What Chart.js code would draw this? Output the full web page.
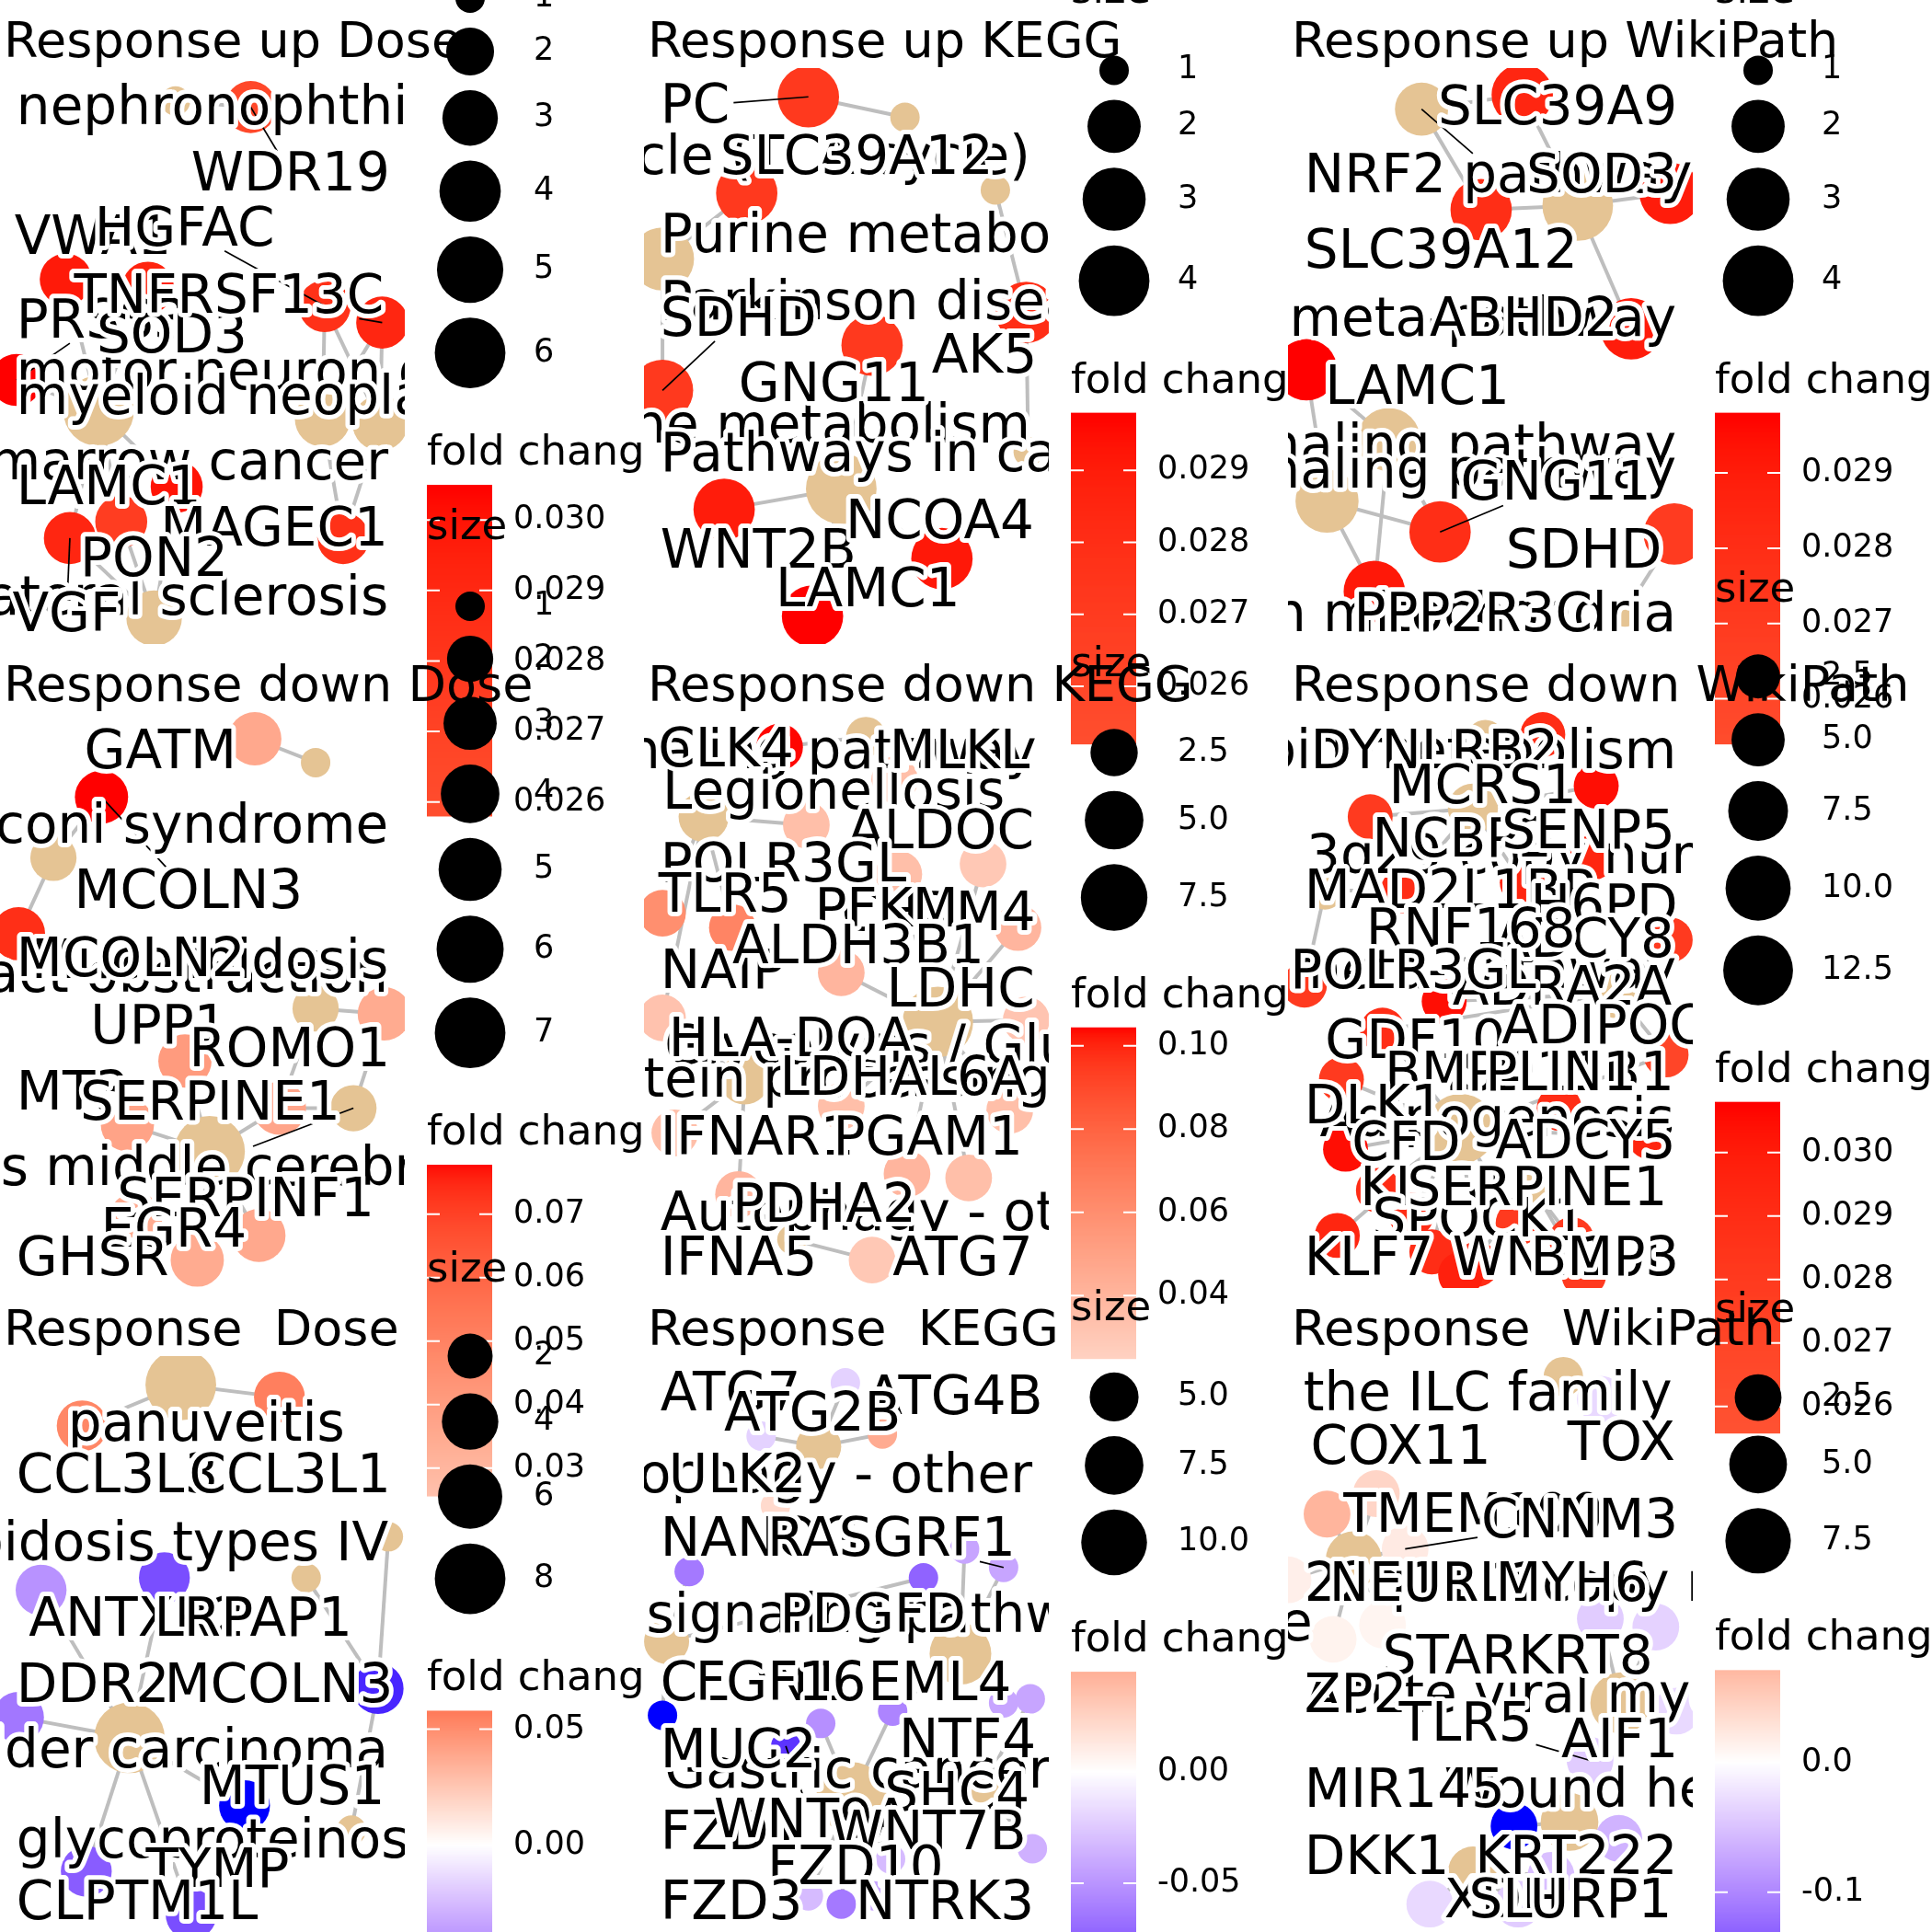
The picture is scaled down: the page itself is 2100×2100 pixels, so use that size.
<!DOCTYPE html>
<html><head><meta charset="utf-8">
<script src="https://cdn.jsdelivr.net/npm/chart.js"></script>
<style>
html,body{margin:0;padding:0;background:#fff;}
body{width:2100px;height:2100px;overflow:hidden;position:relative;}
canvas{position:absolute;}
</style></head><body>
<script>
// ---------------- DATA (layout coordinates, sizes, fold changes) ----------------
const titles = ["Response up Dose","Response up KEGG","Response up WikiPath",
  "Response down Dose","Response down KEGG","Response down WikiPath",
  "Response  Dose","Response  KEGG","Response  WikiPath"];

// Panel 1
const p1Names = ["nephronophthisis","motor neuron disease","myeloid neoplasm","bone marrow cancer","amyotrophic lateral sclerosis","WDR19","VWA1","HGFAC","PRSS3","SOD3","TNFRSF13C","LAMC1","MAGEC1","PON2","VGF"];
const p1X = [427,785,925,240,375,610,160,790,40,360,930,430,835,295,170];
const p1Y = [245,1020,1030,1000,1505,260,680,745,925,700,785,1185,1310,1270,1310];
const p1Size = [1,3,3,6,3,2.5,2.5,2.5,2.5,2.5,2.5,2.5,2.5,2.5,2.5];
const p1FC = [null,null,null,null,null,0.0265,0.0298,0.0285,0.0305,0.0293,0.0292,0.0300,0.0285,0.0275,0.0292];
const p1LabX = [40,40,40,945,945,465,35,230,40,235,180,40,390,195,30];
const p1LabY = [255,900,960,1120,1450,415,570,550,775,810,715,1180,1280,1355,1490];
const p1Right = ["bone marrow cancer","amyotrophic lateral sclerosis"];
const p1Seg = ["WDR19","HGFAC","TNFRSF13C","PRSS3","VGF"];
const p1Edges = [[5,0],[7,1],[7,2],[10,2],[10,1],[12,2],[12,1],[11,3],[14,3],[13,3],[14,4],[13,4],[8,3],[6,3],[9,3],[11,4]];
const p1SizeLim = [1,6], p1SizeBreaks = [1,2,3,4,5,6];
const p1FcLim = [0.0258,0.0305], p1FcBreaks = [0.026,0.027,0.028,0.029,0.030];

// Panel 2
const p2Names = ["Citrate cycle (TCA cycle)","Parkinson disease","Purine metabolism","Pyrimidine metabolism","Pathways in cancer","PC","SLC39A12","SDHD","GNG11","AK5","WNT2B","NCOA4","LAMC1"];
const p2X = [635,855,45,935,480,400,250,45,555,930,195,725,410];
const p2Y = [285,462,630,1100,1190,235,470,950,840,760,1240,1360,1500];
const p2Size = [1,1,3,1,4,2.8,2.8,2.8,2.8,2.8,2.8,2.8,2.8];
const p2FC = [null,null,null,null,null,0.0272,0.0272,0.0272,0.0272,0.028,0.029,0.0292,0.0298];
const p2LabX = [940,40,40,940,40,40,185,40,230,700,40,490,320];
const p2LabY = [375,730,565,1030,1100,250,375,770,930,860,1335,1262,1430];
const p2Right = ["Citrate cycle (TCA cycle)","Pyrimidine metabolism"];
const p2Seg = ["PC","SDHD"];
const p2Edges = [[5,0],[6,2],[7,2],[9,1],[9,3],[8,4],[10,4],[11,4],[12,4]];
const p2SizeLim = [1,4], p2SizeBreaks = [1,2,3,4];
const p2FcLim = [0.0252,0.0298], p2FcBreaks = [0.026,0.027,0.028,0.029];

// Panel 3
const p3Names = ["NRF2 pathway","Nuclear receptors meta-pathway","PI3K-Akt signaling pathway","Wnt signaling pathway","Electron transport chain: OXPHOS system in mitochondria","SLC39A9","SLC39A12","SOD3","ABHD2","LAMC1","GNG11","SDHD","PPP2R3C"];
const p3X = [325,705,245,95,820,570,470,930,835,45,370,940,210];
const p3Y = [265,500,1070,1220,1490,230,510,470,800,900,1295,1300,1440];
const p3Size = [2,4,3,3,1,2.8,2.8,2.8,2.8,2.8,2.8,2.8,2.8];
const p3FC = [null,null,null,null,null,0.0285,0.028,0.029,0.029,0.0298,0.028,0.027,0.0292];
const p3LabX = [40,945,945,945,945,365,40,580,345,90,420,530,160];
const p3LabY = [420,770,1080,1140,1490,255,605,420,770,935,1170,1335,1490];
const p3Right = ["Nuclear receptors meta-pathway","PI3K-Akt signaling pathway","Wnt signaling pathway","Electron transport chain: OXPHOS system in mitochondria"];
const p3Seg = ["NRF2 pathway","GNG11"];
const p3Edges = [[5,0],[6,0],[6,1],[5,1],[7,1],[8,1],[9,2],[9,3],[10,3],[10,2],[12,2],[12,3],[11,4]];
const p3SizeLim = [1,4], p3SizeBreaks = [1,2,3,4];
const p3FcLim = [0.0254,0.0298], p3FcBreaks = [0.026,0.027,0.028,0.029];

// Panel 4
const p4Names = ["Fanconi syndrome","urinary tract obstruction","Mucolipidosis","Infarctions middle cerebral artery","Kidney Diseases","GATM","MCOLN3","MCOLN2","UPP1","ROMO1","MT3","SERPINE1","SERPINF1","EGR4","GHSR"];
const p4X = [768,768,130,860,510,620,247,45,450,680,310,935,630,330,480];
const p4Y = [288,887,520,1130,1235,230,372,705,1015,1130,1170,900,1440,1400,1500];
const p4Size = [1,2,2,2,7,3,3,3,3,3,3,3,3,3,3];
const p4FC = [null,null,null,null,null,0.035,0.0778,0.073,0.04,0.036,0.037,0.034,0.035,0.034,0.034];
const p4LabX = [945,945,945,-615,null,205,180,40,220,460,40,195,285,245,40];
const p4LabY = [435,800,765,1270,null,255,595,760,925,980,1085,1110,1345,1420,1490];
const p4Right = ["Fanconi syndrome","urinary tract obstruction","Mucolipidosis"];
const p4Seg = ["MCOLN3","Infarctions middle cerebral artery"];
const p4Edges = [[5,0],[6,2],[7,2],[11,1],[9,1],[11,3],[9,3],[9,4],[8,4],[10,4],[12,4],[13,4],[14,4]];
const p4SizeLim = [1,7], p4SizeBreaks = [1,2,3,4,5,6,7];
const p4FcLim = [0.0256,0.0778], p4FcBreaks = [0.03,0.04,0.05,0.06,0.07];

// Panel 5
const p5Names = ["NOD-like receptor signaling pathway","Legionellosis","Glycolysis / Gluconeogenesis","Protein processing in endoplasmic reticulum","Autophagy - other","CLK4","MLKL","ALDOC","POLR3GL","TLR5","CHRM4","PFKM","NAIP","ALDH3B1","LDHC","HLA-DOA","LDHAL6A","IFNAR1","PGAM1","PDHA2","ATG7","IFNA5","ENO2"];
const p5X = [540,145,715,245,360,330,610,825,395,45,910,620,215,480,930,45,480,75,890,640,555,230,790];
const p5Y = [225,420,920,1060,1450,250,330,535,440,655,690,560,690,800,915,910,1125,1190,1135,1290,1500,1340,1300];
const p5Size = [1.5,3,9,3,1,2.4,2.4,2.4,2.4,2.4,2.4,2.4,2.4,2.4,2.4,2.4,2.4,2.4,2.4,2.4,2.4,2.4,2.4];
const p5FC = [null,null,null,null,null,0.104,0.035,0.03,0.035,0.06,0.04,0.035,0.065,0.04,0.032,0.033,0.035,0.035,0.035,0.04,0.03,0.04,0.035];
const p5LabX = [955,45,50,-207,40,34,597,495,40,35,480,415,40,215,590,60,330,40,460,215,605,40,null];
const p5LabY = [255,354,975,1055,1380,251,255,450,530,605,650,640,790,730,835,955,1050,1195,1195,1360,1490,1490,null];
const p5Right = ["NOD-like receptor signaling pathway"];
const p5Seg = [];
const p5Edges = [[6,0],[5,0],[8,1],[9,1],[12,1],[15,1],[7,2],[11,2],[10,2],[13,2],[14,2],[16,2],[18,2],[19,2],[22,2],[17,3],[15,3],[21,4],[20,4],[21,3]];
const p5SizeLim = [1,9], p5SizeBreaks = [2.5,5,7.5];
const p5FcLim = [0.0249,0.1044], p5FcBreaks = [0.04,0.06,0.08,0.10];

// Panel 6
const p6Names = ["Sphingolipid metabolism","3q29 copy number variation syndrome","Adipogenesis","Nuclear receptors meta-pathway","Leptin signaling pathway","Wnt signaling pathway","DYNLRB2","MCRS1","NCBP2","SENP5","MAD2L1BP","H6PD","ADCY8","RNF168","ADRA2A","POLR3GL","GDF10","ADIPOQ","HSD11B1","BMP4","PLIN1","DLK1","CFD","ADCY5","KISS1","SPOCK1","SERPINE1","KLF7","WNT10B","BMP3"];
const p6X = [480,450,420,800,90,600,620,750,200,740,280,570,380,930,230,40,130,920,140,660,880,220,350,690,460,300,560,120,420,720];
const p6Y = [230,400,1180,850,600,1330,220,345,420,520,600,580,870,720,940,830,1060,1000,1230,1130,1200,1330,1480,1450,1510,1390,1410,1440,1535,1535];
const p6Size = [1.5,4,12.5,4,1.5,2,2.7,2.7,2.7,2.7,2.7,2.7,2.7,2.7,2.7,2.7,2.7,2.7,2.7,2.7,2.7,2.7,2.7,2.7,2.7,2.7,2.7,2.7,2.7,2.7];
const p6FC = [null,null,null,null,null,null,0.029,0.0305,0.028,0.0295,0.029,0.0295,0.0305,0.028,0.029,0.028,0.028,0.027,0.0305,0.029,0.0295,0.029,0.029,0.028,0.029,0.029,0.028,0.0295,0.0298,0.028];
const p6LabX = [945,45,940,945,null,null,55,245,205,520,40,590,940,190,400,5,90,520,940,235,480,40,155,505,175,205,290,40,400,590];
const p6LabY = [255,510,1150,790,null,null,255,340,470,450,595,630,715,690,830,790,960,925,1040,1040,1040,1120,1210,1205,1320,1395,1320,1490,1490,1490];
const p6Right = ["Sphingolipid metabolism","Adipogenesis","Nuclear receptors meta-pathway","ADCY8","HSD11B1"];
const p6Seg = [];
const p6Edges = [[6,0],[7,1],[8,1],[9,1],[10,1],[11,1],[12,3],[13,3],[14,3],[17,3],[15,4],[10,4],[16,2],[18,2],[19,2],[20,2],[21,2],[22,2],[24,2],[25,2],[27,2],[14,2],[17,2],[23,5],[26,5],[28,5],[29,5],[26,2]];
const p6SizeLim = [1,13], p6SizeBreaks = [2.5,5,7.5,10,12.5];
const p6FcLim = [0.02558,0.0308], p6FcBreaks = [0.026,0.027,0.028,0.029,0.030];

// Panel 7
const p7Names = ["panuveitis","Mucolipidosis types IV","Sphingolipidosis","Urinary bladder carcinoma","glycoproteinosis","CCL3L3","CCL3L1","ANTXR2","LRPAP1","DDR2","MCOLN3","MTUS1","TYMP","CLPTM1L"];
const p7X = [440,945,745,315,855,200,680,100,400,45,920,595,210,465];
const p7Y = [235,605,705,1095,1320,335,265,735,705,1045,975,1260,1420,1525];
const p7Size = [8,1,1,8,1,2.9,2.9,2.9,2.9,2.9,2.9,2.9,2.9,2.9];
const p7FC = [null,null,null,null,null,0.052,0.055,-0.04,-0.065,-0.05,-0.078,-0.0849,-0.06,-0.065];
const p7LabX = [165,945,null,945,40,40,460,70,375,40,400,485,355,40];
const p7LabY = [325,615,null,1120,1340,450,450,800,800,960,960,1210,1410,1490];
const p7Right = ["Mucolipidosis types IV","Urinary bladder carcinoma"];
const p7Seg = [];
const p7Edges = [[5,0],[6,0],[10,1],[10,2],[7,3],[8,3],[9,3],[11,3],[12,3],[13,3],[10,4]];
const p7SizeLim = [1,8], p7SizeBreaks = [2,4,6,8];
const p7FcLim = [-0.0849,0.058], p7FcBreaks = [-0.05,0,0.05];

// Panel 8
const p8Names = ["Autophagy - other","Ras signaling pathway","Neurotrophin signaling pathway","Gastric cancer","Hippo signaling pathway","ATG7","ATG4B","ATG2B","ULK2","NANOG","RASGRF1","PDGFD","CLDN1","FGF16","EML4","MUC2","NTF4","SHC4","FZD1","WNT9A","WNT7B","FZD10","FZD3","NTRK3"];
const p8X = [425,55,770,505,825,490,580,285,320,110,875,680,45,780,875,430,605,940,400,345,945,600,480,560];
const p8Y = [385,860,890,1240,1215,230,355,360,530,690,680,705,1040,635,1010,1060,1030,1000,1480,1115,1365,1390,1500,1480];
const p8Size = [4.3,4.3,8.5,12,3.3,3,3,3,3,3,3,3,3,3,3,3,3,3,3,3,3,3,3,3];
const p8FC = [null,null,null,null,null,-0.02,0.045,-0.02,0.02,-0.06,-0.04,-0.07,-0.1038,-0.04,-0.04,-0.05,-0.055,-0.04,-0.03,-0.09,-0.035,-0.03,-0.06,-0.04];
const p8LabX = [945,-270,null,50,null,40,540,195,60,40,300,330,40,125,545,40,620,585,40,170,930,300,40,515];
const p8LabY = [450,790,null,1170,null,250,260,300,450,605,605,790,955,955,955,1120,1095,1225,1320,1290,1320,1405,1490,1490];
const p8Right = ["Autophagy - other","WNT7B"];
const p8Seg = ["RASGRF1","WNT9A"];
const p8Edges = [[5,0],[6,0],[7,0],[8,0],[9,1],[12,1],[11,1],[10,2],[11,2],[13,2],[14,2],[16,2],[17,4],[15,3],[19,3],[18,3],[21,3],[22,3],[23,3],[20,4],[16,3]];
const p8SizeLim = [3,12], p8SizeBreaks = [5,7.5,10];
const p8FcLim = [-0.1038,0.045], p8FcBreaks = [-0.10,-0.05,0];

// Panel 9
const p9Names = ["Development of the ILC family","22q11.2 copy number variation syndrome","Acute viral myocarditis","Wound healing","Skin tissue","TOX","COX11","TMEM100","CNNM3","NEURL1","MYH6","STAR","KRT8","ZP2","TLR5","AIF1","MIR145","DKK1","KRT222","XDH","SLURP1"];
const p9X = [670,160,810,685,450,760,215,95,285,0,230,110,760,895,735,945,550,805,640,345,560];
const p9Y = [215,660,1010,1300,1420,270,500,550,635,710,820,855,805,825,1150,1030,1310,1340,1430,1500,1500];
const p9Size = [1.5,4.5,6,5,3,2.5,2.5,2.5,2.5,2.5,2.5,2.5,2.5,2.5,2.5,2.5,2.5,2.5,2.5,2.5,2.5];
const p9FC = [null,null,null,null,null,-0.03,0.04,0.071,0.02,0.015,0.01,0.012,-0.04,-0.035,-0.04,-0.03,-0.184,-0.06,-0.05,-0.03,-0.04];
const p9LabX = [935,40,40,380,60,680,55,135,470,100,505,230,560,40,270,665,40,40,455,380,440];
const p9LabY = [250,715,985,1215,810,370,380,545,560,715,715,890,890,985,1055,1095,1215,1380,1380,1485,1485];
const p9Right = ["Development of the ILC family","Skin tissue"];
const p9Seg = ["CNNM3","TLR5"];
const p9Edges = [[5,0],[6,1],[7,1],[8,1],[9,1],[10,1],[11,1],[12,2],[13,2],[14,2],[15,2],[16,3],[17,3],[18,3],[19,4],[20,4],[18,4]];
const p9SizeLim = [1,9.5], p9SizeBreaks = [2.5,5,7.5];
const p9FcLim = [-0.184,0.071], p9FcBreaks = [-0.1,0];

// ---------------- helpers ----------------
const CAT_COLOR = '#E5C494', EDGE_COLOR = '#BEBEBE';
function lin(c){c/=255;return c<=0.04045?c/12.92:Math.pow((c+0.055)/1.055,2.4);}
function gam(v){v=v<=0.0031308?12.92*v:1.055*Math.pow(v,1/2.4)-0.055;return Math.round(Math.max(0,Math.min(1,v))*255);}
function rgb2lab(r,g,b){const R=lin(r),G=lin(g),B=lin(b);
  const X=(0.4124*R+0.3576*G+0.1805*B)/0.95047,Y=0.2126*R+0.7152*G+0.0722*B,Z=(0.0193*R+0.1192*G+0.9505*B)/1.08883;
  const f=t=>t>0.008856?Math.cbrt(t):7.787*t+16/116;const fx=f(X),fy=f(Y),fz=f(Z);
  return [116*fy-16,500*(fx-fy),200*(fy-fz)];}
function lab2rgb(L,a,b){const fy=(L+16)/116,fx=fy+a/500,fz=fy-b/200;
  const fi=t=>{const t3=t*t*t;return t3>0.008856?t3:(t-16/116)/7.787;};
  const X=fi(fx)*0.95047,Y=fi(fy),Z=fi(fz)*1.08883;
  const R=3.2406*X-1.5372*Y-0.4986*Z,G=-0.9689*X+1.8758*Y+0.0415*Z,B=0.0557*X-0.2040*Y+1.0570*Z;
  return 'rgb('+gam(R)+','+gam(G)+','+gam(B)+')';}
const LW=rgb2lab(255,255,255), LR=rgb2lab(255,0,0), LB=rgb2lab(0,0,255);
function fcColor(v,lim){const m=Math.max(Math.abs(lim[0]),Math.abs(lim[1]));const t=v/m;
  const e=t>=0?LR:LB;const k=Math.min(1,Math.abs(t));
  return lab2rgb(LW[0]+(e[0]-LW[0])*k,LW[1]+(e[1]-LW[1])*k,LW[2]+(e[2]-LW[2])*k);}
function sizeToRadius(v,lim){const t=Math.max(0,Math.min(1,(v-lim[0])/(lim[1]-lim[0])));return 16+22.4*Math.sqrt(t);}

const panels = [
 {names:p1Names,x:p1X,y:p1Y,size:p1Size,fc:p1FC,labX:p1LabX,labY:p1LabY,right:p1Right,seg:p1Seg,edges:p1Edges,sizeLim:p1SizeLim,sizeBreaks:p1SizeBreaks,sd:0,fcLim:p1FcLim,fcBreaks:p1FcBreaks,fd:3},
 {names:p2Names,x:p2X,y:p2Y,size:p2Size,fc:p2FC,labX:p2LabX,labY:p2LabY,right:p2Right,seg:p2Seg,edges:p2Edges,sizeLim:p2SizeLim,sizeBreaks:p2SizeBreaks,sd:0,fcLim:p2FcLim,fcBreaks:p2FcBreaks,fd:3},
 {names:p3Names,x:p3X,y:p3Y,size:p3Size,fc:p3FC,labX:p3LabX,labY:p3LabY,right:p3Right,seg:p3Seg,edges:p3Edges,sizeLim:p3SizeLim,sizeBreaks:p3SizeBreaks,sd:0,fcLim:p3FcLim,fcBreaks:p3FcBreaks,fd:3},
 {names:p4Names,x:p4X,y:p4Y,size:p4Size,fc:p4FC,labX:p4LabX,labY:p4LabY,right:p4Right,seg:p4Seg,edges:p4Edges,sizeLim:p4SizeLim,sizeBreaks:p4SizeBreaks,sd:0,fcLim:p4FcLim,fcBreaks:p4FcBreaks,fd:2},
 {names:p5Names,x:p5X,y:p5Y,size:p5Size,fc:p5FC,labX:p5LabX,labY:p5LabY,right:p5Right,seg:p5Seg,edges:p5Edges,sizeLim:p5SizeLim,sizeBreaks:p5SizeBreaks,sd:1,fcLim:p5FcLim,fcBreaks:p5FcBreaks,fd:2},
 {names:p6Names,x:p6X,y:p6Y,size:p6Size,fc:p6FC,labX:p6LabX,labY:p6LabY,right:p6Right,seg:p6Seg,edges:p6Edges,sizeLim:p6SizeLim,sizeBreaks:p6SizeBreaks,sd:1,fcLim:p6FcLim,fcBreaks:p6FcBreaks,fd:3},
 {names:p7Names,x:p7X,y:p7Y,size:p7Size,fc:p7FC,labX:p7LabX,labY:p7LabY,right:p7Right,seg:p7Seg,edges:p7Edges,sizeLim:p7SizeLim,sizeBreaks:p7SizeBreaks,sd:0,fcLim:p7FcLim,fcBreaks:p7FcBreaks,fd:2},
 {names:p8Names,x:p8X,y:p8Y,size:p8Size,fc:p8FC,labX:p8LabX,labY:p8LabY,right:p8Right,seg:p8Seg,edges:p8Edges,sizeLim:p8SizeLim,sizeBreaks:p8SizeBreaks,sd:1,fcLim:p8FcLim,fcBreaks:p8FcBreaks,fd:2},
 {names:p9Names,x:p9X,y:p9Y,size:p9Size,fc:p9FC,labX:p9LabX,labY:p9LabY,right:p9Right,seg:p9Seg,edges:p9Edges,sizeLim:p9SizeLim,sizeBreaks:p9SizeBreaks,sd:1,fcLim:p9FcLim,fcBreaks:p9FcBreaks,fd:1}
];

const OY = 500; // row top inside each canvas
const LABEL_DY = 6; // visual centring of label text
function panelPlugin(p, title){
  return {
    id:'cnet',
    afterDatasetsDraw(chart){
      const ctx=chart.ctx,xs=chart.scales.x,ys=chart.scales.y,a=chart.chartArea;
      ctx.save();
      ctx.beginPath();ctx.rect(a.left,a.top,a.right-a.left,a.bottom-a.top);ctx.clip();
      ctx.font='58px "DejaVu Sans"';ctx.textBaseline='middle';ctx.textAlign='left';
      const boxes=p.names.map((n,k)=>{
        if(p.labX[k]===null) return null;
        const w=ctx.measureText(n).width;
        const px=xs.getPixelForValue(p.labX[k]),py=ys.getPixelForValue(p.labY[k])+LABEL_DY;
        return {left:p.right.includes(n)?px-w:px,w:w,cy:py};
      });
      ctx.strokeStyle='#000';ctx.lineWidth=1.7;
      p.names.forEach((n,k)=>{
        const b=boxes[k]; if(!b||!p.seg.includes(n)) return;
        const cx=b.left+b.w/2,cy=b.cy-3,nx=xs.getPixelForValue(p.x[k]),ny=ys.getPixelForValue(p.y[k]);
        const dx=nx-cx,dy=ny-cy,hw=b.w/2+4,hh=24;
        const t=Math.min(dx!==0?hw/Math.abs(dx):Infinity,dy!==0?hh/Math.abs(dy):Infinity);
        if(t>=1) return;
        ctx.beginPath();ctx.moveTo(cx+dx*t,cy+dy*t);ctx.lineTo(nx,ny);ctx.stroke();
      });
      ctx.lineJoin='round';
      p.names.forEach((n,k)=>{
        const b=boxes[k]; if(!b) return;
        ctx.strokeStyle='#fff';ctx.lineWidth=10;ctx.strokeText(n,b.left,b.cy);
        ctx.fillStyle='#000';ctx.fillText(n,b.left,b.cy);
      });
      ctx.restore();
    },
    afterDraw(chart){
      const ctx=chart.ctx;
      ctx.save();
      ctx.fillStyle='#000';ctx.textAlign='left';ctx.textBaseline='alphabetic';
      ctx.font='54px "DejaVu Sans"';
      ctx.fillText(title,4,OY+62);
      // size legend
      const radii=p.sizeBreaks.map(v=>sizeToRadius(v,p.sizeLim));
      const keys=radii.map(r=>2*r+16);
      const K=keys.reduce((s,v)=>s+v,0);
      const total=65+K+97+360;
      const top=OY+398-total/2;
      const keysTop=top+65;
      ctx.font='45px "DejaVu Sans"';
      ctx.fillText('size',464,keysTop-49);
      let yk=keysTop;
      ctx.font='35px "DejaVu Sans"';ctx.textBaseline='middle';
      radii.forEach((r,j)=>{
        const cy=yk+keys[j]/2;
        ctx.beginPath();ctx.arc(511,cy,r,0,2*Math.PI);ctx.fillStyle='#000';ctx.fill();
        ctx.fillText(p.sizeBreaks[j].toFixed(p.sd),580,cy);
        yk+=keys[j];
      });
      ctx.textBaseline='alphabetic';ctx.font='45px "DejaVu Sans"';
      ctx.fillText('fold change',464,yk+75);
      const barTop=yk+97,barH=360,barL=464,barW=71,lo=p.fcLim[0],hi=p.fcLim[1];
      for(let s=0;s<barH;s++){
        const v=hi-(s+0.5)/barH*(hi-lo);
        ctx.fillStyle=fcColor(v,p.fcLim);ctx.fillRect(barL,barTop+s,barW,1.5);
      }
      ctx.strokeStyle='#fff';ctx.lineWidth=2;ctx.font='35px "DejaVu Sans"';ctx.textBaseline='middle';ctx.fillStyle='#000';
      p.fcBreaks.forEach(v=>{
        if(v<lo||v>hi) return;
        const yy=barTop+(hi-v)/(hi-lo)*barH;
        ctx.beginPath();ctx.moveTo(barL,yy);ctx.lineTo(barL+14,yy);ctx.moveTo(barL+barW-14,yy);ctx.lineTo(barL+barW,yy);ctx.stroke();
        ctx.fillText(v.toFixed(p.fd),558,yy);
      });
      ctx.restore();
    }
  };
}

panels.forEach((p,i)=>{
  const col=i%3,row=Math.floor(i/3);
  const cv=document.createElement('canvas');
  cv.width=700;cv.height=1700;
  cv.style.left=(col*700)+'px';cv.style.top=(row*700-OY)+'px';
  document.body.appendChild(cv);
  const nodes=p.names.map((n,k)=>({x:p.x[k],y:p.y[k],r:sizeToRadius(p.size[k],p.sizeLim)}));
  const colors=p.fc.map(v=>v===null?CAT_COLOR:fcColor(v,p.fcLim));
  const edgeSets=p.edges.map(e=>({type:'line',data:[{x:p.x[e[0]],y:p.y[e[0]]},{x:p.x[e[1]],y:p.y[e[1]]}],
    borderColor:EDGE_COLOR,borderWidth:4,pointRadius:0,fill:false,tension:0,order:2,clip:0}));
  const nodeSet={type:'bubble',data:nodes,backgroundColor:colors,borderWidth:0,hoverRadius:0,order:1,clip:0};
  new Chart(cv,{
    type:'bubble',
    data:{datasets:[...edgeSets,nodeSet]},
    options:{
      responsive:false,animation:false,devicePixelRatio:1,events:[],
      layout:{autoPadding:false,padding:{left:0,right:260,top:OY+74,bottom:1700-OY-700}},
      plugins:{legend:{display:false},tooltip:{enabled:false},title:{display:false}},
      scales:{
        x:{type:'linear',min:0,max:985,display:false},
        y:{type:'linear',min:165,max:1568,reverse:true,display:false}
      }
    },
    plugins:[panelPlugin(p,titles[i])]
  });
});
</script>
</body></html>
